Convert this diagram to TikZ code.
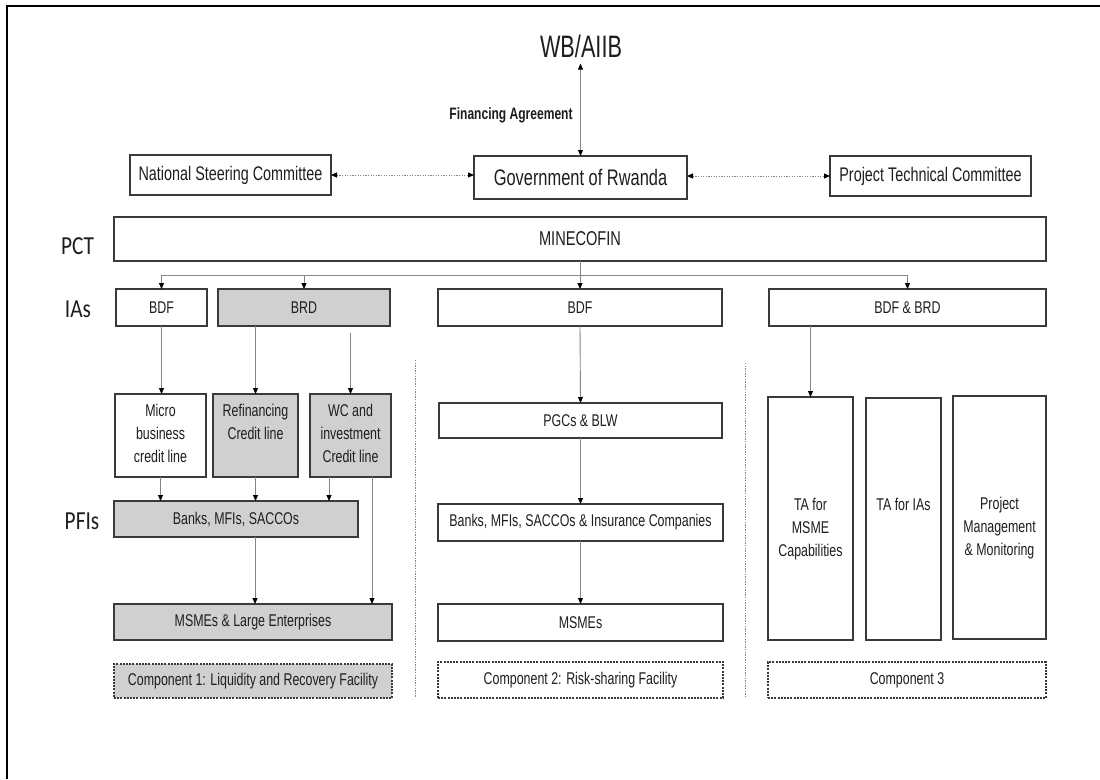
\documentclass[tikz,border=0pt]{standalone}
\usepackage{fontspec}
\setmainfont{Liberation Sans}[FakeStretch=0.73]
\newfontfamily\wbfont{Liberation Sans}[FakeStretch=0.7]
\newfontfamily\calfont{Carlito}[FakeStretch=0.82]
\usetikzlibrary{arrows.meta,calc}
\definecolor{bdr}{HTML}{3A3A3A}
\definecolor{fillg}{HTML}{D0D0D0}
\definecolor{txt}{HTML}{1E1E1E}
\definecolor{lin}{HTML}{858585}
\begin{document}
\begin{tikzpicture}[x=1pt,y=-1pt,
  box/.style={draw=bdr,line width=1.4pt,inner sep=0pt,outer sep=0pt,text=txt,
    font=\fontsize{17}{23}\selectfont,align=center},
  grey/.style={fill=fillg},
  compbox/.style={box,line width=1.1pt,dash pattern=on 2pt off 1.2pt},
  lbl/.style={inner sep=0pt,outer sep=0pt,text=txt,font=\fontsize{17}{23}\selectfont,align=center},
  side/.style={inner sep=0pt,text=txt,font=\calfont\fontsize{26}{28}\selectfont},
  tip/.tip={Triangle[length=6pt,width=5pt,color=black]},
  conn/.style={draw=lin,line width=0.9pt,-tip},
  dconn/.style={draw=lin,line width=0.9pt,tip-tip},
  dotconn/.style={draw=lin,line width=1pt,dash pattern=on 1.3pt off 1.3pt,tip-tip},
  divider/.style={draw=lin,line width=1pt,dash pattern=on 1.3pt off 1.3pt}
]
\useasboundingbox (0,0) rectangle (1100,779);
\fill[white] (0,0) rectangle (1100,779);
% frame
\draw[black,line width=1.5pt] (7,779) -- (7,6) -- (1100,6);

% top
\node[inner sep=0pt,text=txt,font=\wbfont\fontsize{31}{33}\selectfont] (wb) at (581,46) {WB/AIIB};
\node[inner sep=0pt,text=txt,font=\bfseries\fontsize{16.5}{18}\selectfont] (fa) at (511,115) {Financing Agreement};
\node[box,minimum width=213pt,minimum height=43pt,font=\fontsize{22.5}{25}\selectfont] (gov) at (580.5,177.5) {Government of Rwanda};
\node[box,minimum width=201pt,minimum height=40pt,font=\fontsize{19.7}{22}\selectfont] (nsc) at (230.5,175) {National Steering Committee};
\node[box,minimum width=201pt,minimum height=40pt,font=\fontsize{19.7}{22}\selectfont] (ptc) at (930.5,176) {Project Technical Committee};
\node[box,minimum width=932pt,minimum height=44pt,font=\fontsize{20}{22}\selectfont] (mine) at (580,239) {MINECOFIN};

% side labels
\node[side] (pct) at (77.5,246) {PCT};
\node[side] (ias) at (78,309) {IAs};
\node[side] (pfis) at (82,521) {PFIs};

% IAs row
\node[box,minimum width=91pt,minimum height=37pt] (bdfa) at (161.5,307.5) {BDF};
\node[box,grey,minimum width=172pt,minimum height=37pt] (brd) at (304,307.5) {BRD};
\node[box,minimum width=284pt,minimum height=37pt] (bdfb) at (580,307.5) {BDF};
\node[box,minimum width=277pt,minimum height=37pt] (bdfbrd) at (907.5,307.5) {BDF \& BRD};

% component 1
\node[box,minimum width=91pt,minimum height=83pt] (micro) at (160.5,435.5) {};
\node[box,grey,minimum width=85pt,minimum height=83pt] (refin) at (255.5,435.5) {};
\node[box,grey,minimum width=81pt,minimum height=83pt] (wc) at (350.5,435.5) {};
\node[lbl,anchor=north] (microt) at (160.5,404) {Micro\\business\\credit line};
\node[lbl,anchor=north] (refint) at (255.5,404) {Refinancing\\Credit line};
\node[lbl,anchor=north] (wct) at (350.5,404) {WC and\\investment\\Credit line};
\node[box,grey,minimum width=244pt,minimum height=36pt] (banks1) at (236,519) {Banks, MFIs, SACCOs};
\node[box,grey,minimum width=278pt,minimum height=36pt] (msle) at (253,622) {MSMEs \& Large Enterprises};
\node[compbox,grey,minimum width=278pt,minimum height=34pt] (comp1) at (253,681) {Component 1: Liquidity and Recovery Facility};

% component 2
\node[box,minimum width=283pt,minimum height=35pt] (pgc) at (580.5,420.5) {PGCs \& BLW};
\node[box,minimum width=285pt,minimum height=37pt] (banks2) at (580.5,522.5) {Banks, MFIs, SACCOs \& Insurance Companies};
\node[box,minimum width=285pt,minimum height=37pt] (msmes) at (580.5,622.5) {MSMEs};
\node[compbox,minimum width=285pt,minimum height=36pt] (comp2) at (580.5,680) {Component 2: Risk-sharing Facility};

% component 3
\node[box,minimum width=85pt,minimum height=243pt] (ta1) at (810.5,518.5) {};
\node[box,minimum width=75pt,minimum height=242pt] (ta2) at (903.5,519) {};
\node[box,minimum width=93pt,minimum height=243pt] (pm) at (999.5,517.5) {};
\node[lbl,anchor=north] (ta1t) at (810.5,498) {TA for\\MSME\\Capabilities};
\node[lbl,anchor=north] (ta2t) at (903.5,498) {TA for IAs};
\node[lbl,anchor=north] (pmt) at (999.5,497) {Project\\Management\\\& Monitoring};
\node[compbox,minimum width=278pt,minimum height=36pt] (comp3) at (907,680) {Component 3};

% dividers
\draw[divider] (415,360) -- (415,698);
\draw[divider] (745,363) -- (745,698);

% connectors top
\draw[dconn] (gov.north |- wb.south) ++(0,6) -- (gov.north);
\draw[dotconn] (nsc.east) -- (nsc.east -| gov.west);
\draw[dotconn] (gov.east |- ptc.west) -- (ptc.west);

% MINECOFIN distribution
\coordinate (hl) at (0,275);
\draw[conn] (mine.south) -- (bdfb.north);
\draw[dconn] (bdfa.north) -- (bdfa.north |- hl) -- (bdfbrd.north |- hl) -- (bdfbrd.north);
\draw[conn] (brd.north |- hl) -- (brd.north);

% component 1 connectors
\draw[conn] (bdfa.south) -- (bdfa.south |- micro.north);
\draw[conn] (refin.north |- brd.south) -- (refin.north);
\draw[conn] (wc.north |- brd.south) ++(0,7) -- (wc.north);
\draw[conn] (micro.south) -- (micro.south |- banks1.north);
\draw[conn] (refin.south) -- (refin.south |- banks1.north);
\draw[conn] ([xshift=-21.5pt]wc.south) -- ([xshift=-21.5pt]wc.south |- banks1.north);
\draw[conn] ([xshift=21.5pt]wc.south) -- ([xshift=21.5pt]wc.south |- msle.north);
\draw[conn] ([xshift=19pt]banks1.south) -- ([xshift=19pt]banks1.south |- msle.north);

% component 2 connectors
\draw[conn] (bdfb.south) -- (pgc.north);
\draw[conn] (pgc.south) -- (banks2.north);
\draw[conn] (banks2.south) -- (msmes.north);

% component 3 connector
\draw[conn] (ta1.north |- bdfbrd.south) -- (ta1.north);
\end{tikzpicture}
\end{document}
